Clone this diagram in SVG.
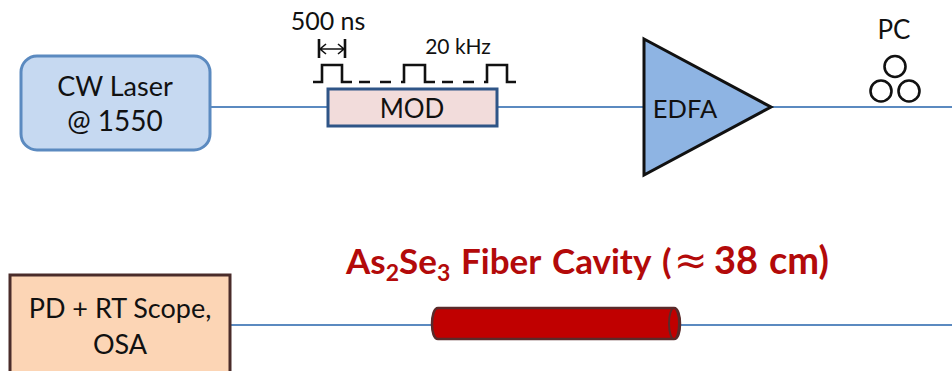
<svg xmlns="http://www.w3.org/2000/svg" width="952" height="371" viewBox="0 0 952 371">
<style>
text{font-family:Lato,"Open Sans",sans-serif;fill:#111;text-anchor:middle}
.t{font-size:27px}
.wire{fill:none;stroke:#5b8ac0;stroke-width:2}
.ink{fill:none;stroke:#111;stroke-width:2.6}
.title{font-size:35px;font-weight:700;fill:#b30a0a;text-anchor:start}
</style>
<rect width="952" height="371" fill="#fff"/>
<g id="connectors">
<path class="wire" d="M211 107H328M497 107H644M771 107H952"/>
<path class="wire" d="M230 325H433M679 325H952"/>
</g>
<g id="cw-laser">
<rect x="21" y="56" width="189" height="94" rx="16" fill="#c6d9f1" stroke="#5b8ac0" stroke-width="3"/>
<text class="t" x="115" y="96">CW Laser</text>
<text x="115" y="131" font-size="28">@ 1550</text>
</g>
<g id="mod">
<rect x="328" y="89" width="169" height="37" fill="#f2dcdb" stroke="#2f5587" stroke-width="3"/>
<text x="412" y="118" font-size="26">MOD</text>
</g>
<g id="pulses">
<path class="ink" d="M313 82H322V65H342V82H352M359 82H370M380 82H391M401 82H404V65H425V82H435M442 82H453M463 82H474M484 82H487V65H507V82H516"/>
<path class="ink" d="M319 39V58M345 39V58"/>
<path fill="none" stroke="#111" stroke-width="1.6" d="M319 49H345M326 44L320 49L326 54M338 44L344 49L338 54"/>
<text x="328" y="30" font-size="25">500 ns</text>
<text x="458" y="54" font-size="21">20 kHz</text>
</g>
<g id="edfa">
<path d="M644 39L771 107L644 175Z" fill="#8eb4e3" stroke="#111" stroke-width="3"/>
<text x="685" y="118" font-size="25.500">EDFA</text>
</g>
<g id="pc">
<text x="894" y="39" font-size="26">PC</text>
<circle class="ink" cx="895" cy="66.500" r="10.500"/>
<circle class="ink" cx="881" cy="91" r="10.500"/>
<circle class="ink" cx="909" cy="91" r="10.500"/>
</g>
<g id="cavity-label">
<text class="title" x="346" y="274">As<tspan font-size="23" dy="7">2</tspan><tspan dy="-7">Se</tspan><tspan font-size="23" dy="7">3</tspan><tspan dy="-7" x="461">Fiber</tspan><tspan x="552">Cavity</tspan><tspan x="662">(</tspan><tspan x="674" font-weight="400" font-size="40" font-family="'DejaVu Sans',sans-serif" textLength="28">≈</tspan><tspan x="714" font-size="38">38</tspan><tspan x="769" font-size="38">cm)</tspan></text>
</g>
<g id="fiber-cavity">
<path d="M438 308H674C678 308 680 316 680 324C680 332 678 339 674 339H438C434 339 432 332 432 324C432 316 434 308 438 308Z" fill="#c00000" stroke="#5a2a2a" stroke-width="2.500"/>
<ellipse cx="674" cy="323.500" rx="5" ry="15.500" fill="#c00000" stroke="#5a2a2a" stroke-width="2"/>
</g>
<g id="pd-scope">
<rect x="10" y="275" width="220" height="110" fill="#fcd5b5" stroke="#4a2c2a" stroke-width="3"/>
<text class="t" x="120" y="318">PD + RT Scope,</text>
<text class="t" x="120" y="354">OSA</text>
</g>
</svg>
